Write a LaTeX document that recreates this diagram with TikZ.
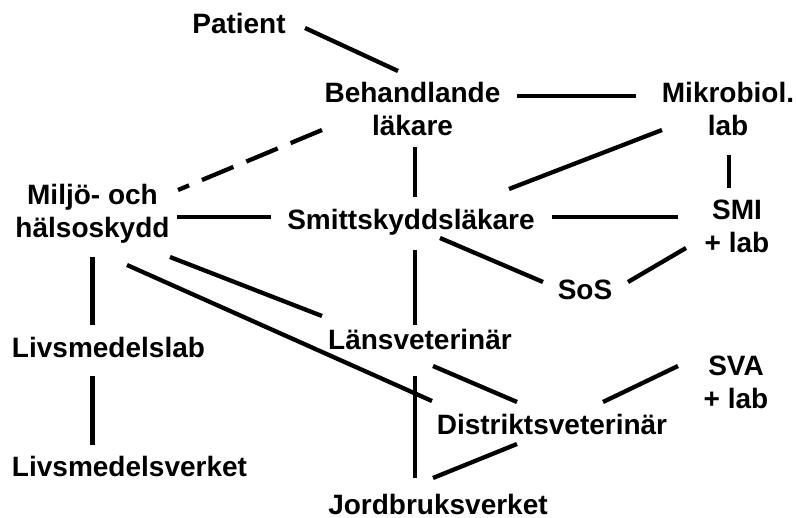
\documentclass[tikz,border=0pt]{standalone}
\usepackage{fontspec}
\setmainfont{Liberation Sans}
\begin{document}
\begin{tikzpicture}[x=1pt,y=-1pt,
  lbl/.style={inner sep=0pt,outer sep=0pt,align=center,anchor=base,
    font=\bfseries\fontsize{28}{32.5}\selectfont},
  link/.style={line width=4.3pt},
  weak/.style={line width=4.3pt,dash pattern=on 34pt off 14pt}]
\useasboundingbox (0,0) rectangle (796,518);
% nodes (positions: baseline of the last text line, px from top-left)
\node[lbl] (pat) at (239,34) {Patient};
\node[lbl] (beh) at (412.5,135.5) {Behandlande\\läkare};
\node[lbl] (mik) at (728,135.5) {Mikrobiol.\\lab};
\node[lbl] (mil) at (92.5,237.5) {Miljö- och\\hälsoskydd};
\node[lbl] (smi) at (411,230) {Smittskyddsläkare};
\node[lbl] (sml) at (737,252.5) {SMI\\+ lab};
\node[lbl] (sos) at (585,300) {SoS};
\node[lbl] (lan) at (420,350) {Länsveterinär};
\node[lbl,anchor=base west] (lab) at (12,358) {Livsmedelslab};
\node[lbl,anchor=base west] (lsv) at (12,477) {Livsmedelsverket};
\node[lbl] (dis) at (552,435) {Distriktsveterinär};
\node[lbl] (sva) at (736,408.5) {SVA\\+ lab};
\node[lbl] (jbv) at (438,515) {Jordbruksverket};
% connectors
\draw[link] ([shift={(66,-6)}]pat.base) -- ([shift={(-14.5,-64.5)}]beh.base);
\draw[link] ([shift={(104.5,-39.5)}]beh.base) -- ([shift={(-92,-39.5)}]mik.base);
\draw[weak] ([shift={(-90.5,-5.5)}]beh.base) -- ([shift={(85.5,-47.5)}]mil.base);
\draw[link] ([shift={(2.5,11.5)}]beh.base) -- ([shift={(4,-33)}]smi.base);
\draw[link] ([shift={(-66,-5.5)}]mik.base) -- ([shift={(98,-41)}]smi.base);
\draw[link] ([shift={(1,19.5)}]mik.base) -- ([shift={(-8,-64.5)}]sml.base);
\draw[link] ([shift={(84.5,-20.5)}]mil.base) -- ([shift={(-140,-13)}]smi.base);
\draw[link] ([shift={(141,-13)}]smi.base) -- ([shift={(-59,-35.5)}]sml.base);
\draw[link] ([shift={(29,8)}]smi.base) -- ([shift={(-42,-18)}]sos.base);
\draw[link] ([shift={(43,-18)}]sos.base) -- ([shift={(-51,-4.5)}]sml.base);
\draw[link] ([shift={(4,20)}]smi.base) -- ([shift={(-5,-25)}]lan.base);
\draw[link] ([shift={(77.5,19.5)}]mil.base) -- ([shift={(-98,-34)}]lan.base);
\draw[link] ([shift={(34.5,27.5)}]mil.base) -- ([shift={(-120,-34)}]dis.base);
\draw[link] ([shift={(0,19.5)}]mil.base) -- ([shift={(80.5,-33)}]lab.base west);
\draw[link] ([shift={(80.5,18)}]lab.base west) -- ([shift={(80.5,-32)}]lsv.base west);
\draw[link] ([shift={(13,16)}]lan.base) -- ([shift={(-35,-33)}]dis.base);
\draw[link] ([shift={(-5,26)}]lan.base) -- ([shift={(-23,-37)}]jbv.base);
\draw[link] ([shift={(-35,9)}]dis.base) -- ([shift={(-5,-37)}]jbv.base);
\draw[link] ([shift={(51,-33)}]dis.base) -- ([shift={(-58,-42.5)}]sva.base);
\end{tikzpicture}
\end{document}
